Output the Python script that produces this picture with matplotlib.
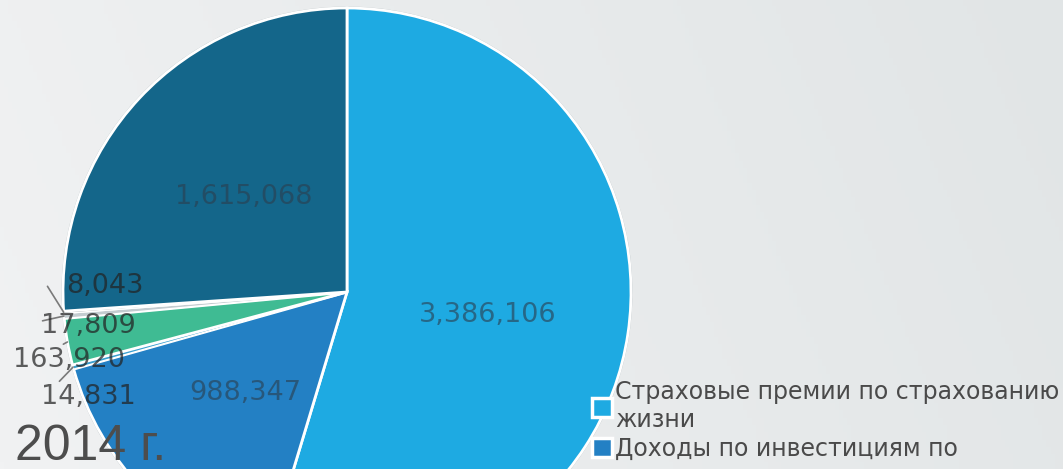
import numpy as np
import matplotlib
matplotlib.use("Agg")
import matplotlib.pyplot as plt
from matplotlib.patches import Circle

plt.rcParams['font.family'] = ['Liberation Sans', 'DejaVu Sans']

# ---- data ----
categories = [
    "Страховые премии по страхованию\nжизни",
    "Доходы по инвестициям по",
    "", "", "", "", "",
]
values = [3386106, 988347, 14831, 163920, 17809, 8043, 1615068]
colors = ["#1eaae2", "#2380c4", "#3a9fcf", "#3fbb93", "#c3ccd0", "#8f989c", "#14668a"]
value_labels = [f"{v:,}" for v in values]
title_text = "2014 г."

W, H = 1063, 469
fig = plt.figure(figsize=(W / 100, H / 100), dpi=100)

# background gradient
bg = fig.add_axes([0, 0, 1, 1])
gx = np.linspace(0, 1, 256)
gy = np.linspace(0, 1, 64)
GX, GY = np.meshgrid(gx, gy)
t = np.clip(0.85 * GX + 0.15 * (1 - GY), 0, 1)
c0 = np.array([241, 242, 243]) / 255
c1 = np.array([225, 229, 230]) / 255
img = c0[None, None, :] * (1 - t[..., None]) + c1[None, None, :] * t[..., None]
bg.imshow(img, aspect='auto', extent=(0, 1, 0, 1), origin='upper')
bg.axis('off')

ax = fig.add_axes([0, 0, 1, 1])
ax.patch.set_alpha(0)
cx, cy, R = 347, H - 292, 284

# soft rim shadow
ax.add_patch(Circle((cx, cy), R + 1.5, facecolor='#7d8d93', alpha=0.45, lw=0, zorder=0))

wedges, _ = ax.pie(values, colors=colors, startangle=90, counterclock=False,
                   center=(cx, cy), radius=R,
                   wedgeprops=dict(edgecolor='white', linewidth=2.0))
for i in (2, 4, 5):
    wedges[i].set_linewidth(1.0)
ax.set_xlim(0, W)
ax.set_ylim(0, H)
ax.set_aspect('equal')
ax.axis('off')

def mid_point(w, frac):
    a = np.deg2rad((w.theta1 + w.theta2) / 2)
    return cx + frac * R * np.cos(a), cy + frac * R * np.sin(a)

inner_font = dict(family='DejaVu Sans', fontsize=19.5, color='#2b3f4f', alpha=0.62)
for i in (0, 1, 6):
    x, y = mid_point(wedges[i], 0.5)
    ax.text(x, y - 2, value_labels[i], ha='center', va='center', zorder=5, **inner_font)

# outside labels for small slices: (index, offset px, relpos)
outside = [(2, (15, -30), (0.05, 0.55)),
           (3, (2, -18), (0.4, 1.0)),
           (4, (24, -10), (0.02, 0.7)),
           (5, (41, 26), (-0.24, 0.5))]
for i, off, rp in outside:
    x, y = mid_point(wedges[i], 1.0)
    ax.annotate(value_labels[i], xy=(x, y), xytext=off, textcoords='offset pixels',
                ha='center', va='center', family='DejaVu Sans', fontsize=19.5,
                color='#222222', alpha=0.72, zorder=6,
                arrowprops=dict(arrowstyle='-', color='#7a7a7a', lw=1.2,
                                shrinkA=0, shrinkB=0, relpos=rp))

fig.text(15 / W, 1 - 447 / H, title_text, fontsize=36, color='#4d4d4d',
         ha='left', va='center', zorder=10)

leg = fig.legend(handles=wedges[:2], labels=categories[:2], loc='upper left',
                 bbox_to_anchor=(592 / W, 1 - 380 / H), frameon=False,
                 prop=dict(family='DejaVu Sans', size=17),
                 handlelength=0.85, handleheight=0.85,
                 handletextpad=0.12, labelspacing=0.21, borderaxespad=0,
                 borderpad=0)
for txt in leg.get_texts():
    txt.set_color('#4a4a4a')
for h in leg.legend_handles:
    h.set_linewidth(2.5)

fig.savefig('out.png', dpi=100)
